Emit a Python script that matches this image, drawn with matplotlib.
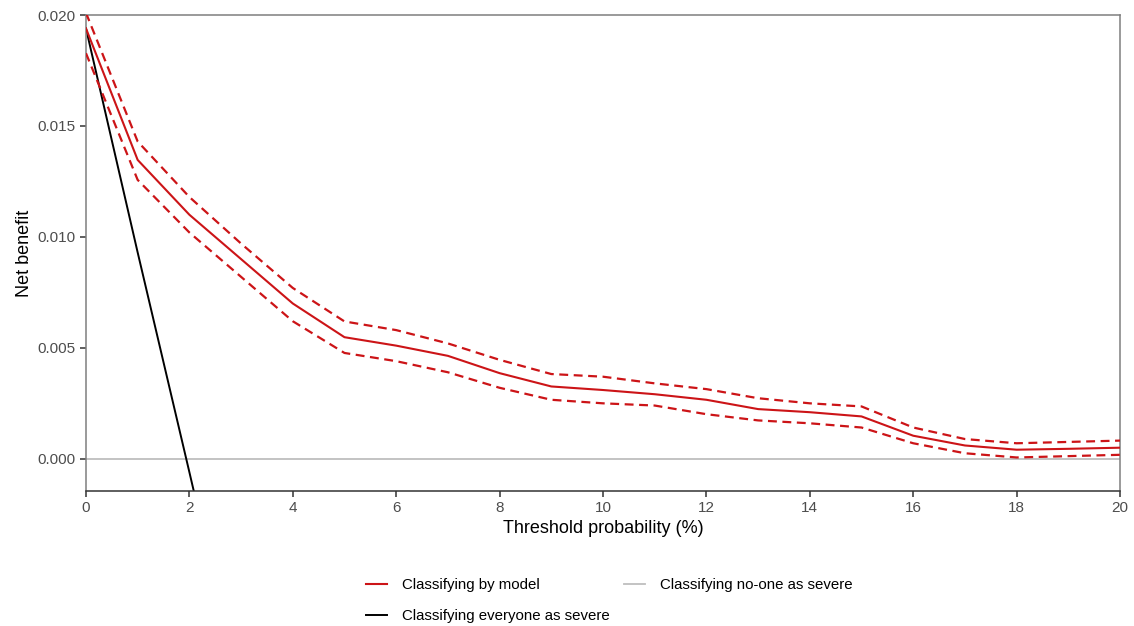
import matplotlib
matplotlib.use("Agg")
import matplotlib.pyplot as plt

plt.rcParams['font.family'] = ['Liberation Sans', 'DejaVu Sans']

# -------------------------------------------------------------------
# Data
# -------------------------------------------------------------------
threshold = [0, 1, 2, 3, 4, 5, 6, 7, 8, 9, 10, 11, 12, 13, 14, 15, 16, 17, 18, 19, 20]
nb_model = [0.0194, 0.01347, 0.0110, 0.0090, 0.0070, 0.00548, 0.0051, 0.00464, 0.00386, 0.00326,
            0.0031, 0.00291, 0.00266, 0.00224, 0.0021, 0.00191, 0.00104, 0.0006, 0.00041, 0.00045, 0.0005]
nb_upper = [0.0201, 0.0143, 0.0118, 0.0097, 0.0077, 0.00619, 0.0058, 0.0052, 0.00446, 0.00382,
            0.0037, 0.0034, 0.00314, 0.00273, 0.0025, 0.00236, 0.00141, 0.00089, 0.0007, 0.00076, 0.00082]
nb_lower = [0.01828, 0.01257, 0.0102, 0.0082, 0.0062, 0.00477, 0.0044, 0.0039, 0.0032, 0.00266,
            0.0025, 0.0024, 0.00201, 0.00173, 0.0016, 0.00141, 0.0007, 0.00025, 0.00006, 0.00012, 0.00018]

all_threshold = [0, 1, 2, 3]
nb_all = [0.0194, 0.0093, -0.0006, -0.0106]

RED = '#CC1417'

fig, ax = plt.subplots(figsize=(11.34, 6.26), dpi=100)
fig.subplots_adjust(left=0.0758, right=0.9877, top=0.976, bottom=0.2157)

ax.axhline(0, color='#BEBEBE', lw=1.3, zorder=1, label='Classifying no-one as severe')
ax.plot(all_threshold, nb_all, color='black', lw=1.4, zorder=2, label='Classifying everyone as severe')
ax.plot(threshold, nb_upper, color=RED, lw=1.6, ls=(0, (4, 2.5)), zorder=3)
ax.plot(threshold, nb_lower, color=RED, lw=1.6, ls=(0, (4, 2.5)), zorder=3)
ax.plot(threshold, nb_model, color=RED, lw=1.5, zorder=4, label='Classifying by model')

ax.set_xlim(0, 20)
ax.set_ylim(-0.00145, 0.020)
ax.set_xticks(range(0, 21, 2))
ax.set_yticks([0.000, 0.005, 0.010, 0.015, 0.020])
ax.set_yticklabels(['0.000', '0.005', '0.010', '0.015', '0.020'])

for side in ['top', 'right', 'left']:
    ax.spines[side].set_color('#7F7F7F')
ax.spines['bottom'].set_color('#333333')
for s in ax.spines.values():
    s.set_linewidth(1.1)

ax.tick_params(axis='both', labelsize=11, colors='#4D4D4D', length=4, width=1.1, pad=3.5)
ax.tick_params(axis='x', color='#333333')
ax.tick_params(axis='y', color='#333333')

ax.set_xlabel('Threshold probability (%)', fontsize=13, labelpad=3)
ax.set_ylabel('Net benefit', fontsize=13, labelpad=3)

handles, labels = ax.get_legend_handles_labels()
order = [2, 1, 0]
ax.legend([handles[i] for i in order], [labels[i] for i in order],
          loc='upper center', bbox_to_anchor=(0.506, -0.155), ncol=2, frameon=False,
          fontsize=10.8, handlelength=1.45, handletextpad=1.0, columnspacing=0.9,
          labelspacing=1.15)

plt.savefig('out.png', dpi=100)
